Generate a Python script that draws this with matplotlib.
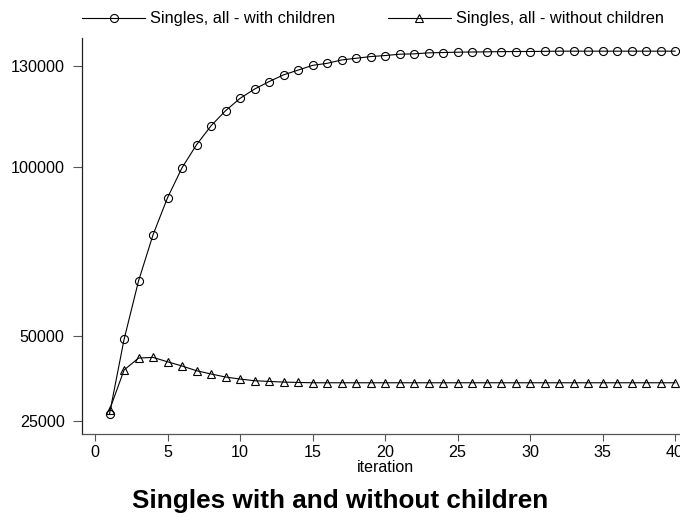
import matplotlib
matplotlib.use("Agg")
import matplotlib.pyplot as plt

plt.rcParams['font.family'] = ['Liberation Sans', 'DejaVu Sans']

iteration = list(range(1, 41))

# singles, all - with children
with_children = [27150, 49100, 66400, 80050, 91000, 99850, 106650, 112250, 116700, 120350,
                 123100, 125300, 127300, 128700, 130100, 130700, 131700, 132200, 132700, 133000,
                 133400, 133500, 133800, 133900, 134000, 134050, 134100, 134150, 134200, 134200,
                 134250, 134300, 134300, 134300, 134300, 134300, 134300, 134300, 134300, 134300]

# singles, all - without children
without_children = [28250, 40070, 43600, 43800, 42500, 41250, 39860, 38900, 38000, 37400,
                    36900, 36700, 36500, 36400, 36300, 36300, 36300, 36300, 36300, 36300,
                    36300, 36300, 36300, 36300, 36300, 36300, 36300, 36300, 36300, 36300,
                    36300, 36300, 36300, 36300, 36300, 36300, 36300, 36300, 36300, 36300]

y_ticks = [25000, 50000, 100000, 130000]
x_ticks = [0, 5, 10, 15, 20, 25, 30, 35, 40]

W, H = 680, 518
fig = plt.figure(figsize=(W / 100, H / 100), dpi=100)
ax = fig.add_axes([82 / W, (H - 434) / H, (W - 82) / W, (434 - 38) / H])

ax.plot(iteration, with_children, color='black', lw=0.8, marker='o', ms=5.8,
        mfc='none', mec='black', mew=0.8, label='Singles, all - with children')
ax.plot(iteration, without_children, color='black', lw=0.8, marker='^', ms=5.8,
        mfc='none', mec='black', mew=0.8, label='Singles, all - without children')

ax.set_xlim(-0.9, 40.34)
ax.set_ylim(21160, 138190)
ax.set_xticks(x_ticks)
ax.set_yticks(y_ticks)
ax.set_yticklabels([str(v) for v in y_ticks])

for side in ['top', 'right']:
    ax.spines[side].set_visible(False)
ax.spines['left'].set_color('#222222')
ax.spines['bottom'].set_color('#555555')
ax.spines['left'].set_linewidth(0.9)
ax.spines['bottom'].set_linewidth(0.9)
ax.tick_params(axis='y', length=6.5, width=0.8, color='#555555', pad=6, labelsize=11.6)
ax.tick_params(axis='x', length=5, width=0.8, color='#555555', pad=3, labelsize=11.6)

fig.text(385 / W, (H - 472) / H, 'iteration', ha='center', va='baseline', fontsize=11.5)
fig.text(0.5, (H - 508) / H, 'Singles with and without children', ha='center',
         va='baseline', fontsize=18.8, fontweight='bold')

fig.legend(loc='center left', bbox_to_anchor=(82 / W, 1 - 19 / H), ncol=2,
           frameon=False, fontsize=11.8, handlelength=3.85, handletextpad=0.3,
           columnspacing=3.2, borderpad=0, borderaxespad=0, numpoints=1)

fig.savefig('out.png', dpi=100)
